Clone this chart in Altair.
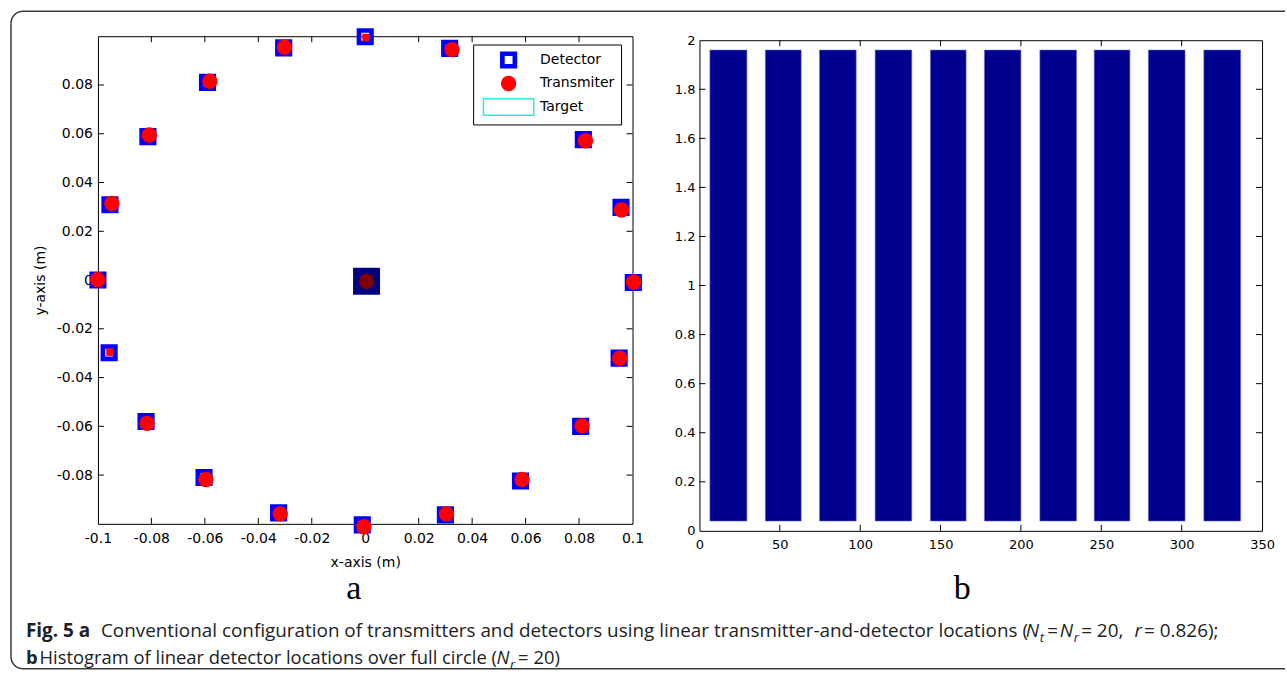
import altair as alt
import pandas as pd

# ---------------- data ----------------
# panel a : detector (blue squares) positions, metres
det_x = [0.0, 0.0316, 0.0588, 0.0816, 0.0957, 0.1003, 0.0950, 0.0806, 0.0581, 0.0300,
         -0.0011, -0.0324, -0.0603, -0.0820, -0.0958, -0.1000, -0.0955, -0.0813, -0.0590, -0.0305]
det_y = [0.0998, 0.0950, 0.0809, 0.0576, 0.0298, -0.0010, -0.0320, -0.0600, -0.0824, -0.0963,
         -0.1004, -0.0955, -0.0810, -0.0580, -0.0298, 0.0000, 0.0309, 0.0588, 0.0811, 0.0952]
# transmitters drawn as red discs
tx_x = [0.0325, 0.0588, 0.0824, 0.0959, 0.1004, 0.0952, 0.0811, 0.0587, 0.0304, -0.0005,
        -0.0318, -0.0596, -0.0816, -0.1001, -0.0948, -0.0808, -0.0581, -0.0302]
tx_y = [0.0945, 0.0809, 0.0571, 0.0287, -0.0008, -0.0321, -0.0598, -0.0818, -0.0959, -0.1012,
        -0.0959, -0.0818, -0.0588, 0.0001, 0.0314, 0.0595, 0.0815, 0.0955]
# transmitters drawn as small red squares
tx_sq_x = [0.0003, -0.0955]
tx_sq_y = [0.0995, -0.0296]
# target at the centre
target_x = [0.0005]
target_y = [-0.0005]
series_names = ["Detector", "Transmiter", "Target"]

left_xticks = [-0.1, -0.08, -0.06, -0.04, -0.02, 0, 0.02, 0.04, 0.06, 0.08, 0.1]
left_yticks = [-0.08, -0.06, -0.04, -0.02, 0, 0.02, 0.04, 0.06, 0.08]
left_inner_xticks = [-0.08, -0.06, -0.04, -0.02, 0, 0.02, 0.04, 0.06, 0.08]

# panel b : histogram bars
bar_start = [6.5, 41.0, 74.7, 109.3, 143.7, 177.3, 211.8, 245.6, 279.3, 313.8]
bar_end = [29.5, 63.3, 97.5, 132.1, 165.9, 200.0, 234.6, 267.8, 302.1, 336.7]
bar_low = [0.04, 0.04, 0.04, 0.04, 0.04, 0.04, 0.04, 0.04, 0.04, 0.04]
bar_high = [1.96, 1.96, 1.96, 1.96, 1.96, 1.96, 1.96, 1.96, 1.96, 1.96]

right_xticks = [0, 50, 100, 150, 200, 250, 300, 350]
right_yticks = [0, 0.2, 0.4, 0.6, 0.8, 1, 1.2, 1.4, 1.6, 1.8, 2]
right_inner_xticks = [50, 100, 150, 200, 250, 300]
right_inner_yticks = [0.2, 0.4, 0.6, 0.8, 1, 1.2, 1.4, 1.6, 1.8]

# ---------------- geometry ----------------
LX0, LY0, LW, LH = 97, 35, 535, 488
RX0, RY0, RW, RH = 699, 39, 563, 491
TICK = 6


def lx(cx):
    return cx - LX0


def ly(cy):
    return cy - LY0


AX_FONT = "DejaVu Sans"
CAP_FONT = "Open Sans"

# ---------------- panel a ----------------
xs_l = alt.Scale(domain=[-0.1, 0.1], nice=False, zero=False)
ys_l = alt.Scale(domain=[-0.1, 0.1], nice=False, zero=False)
xaxis_l = alt.Axis(values=left_xticks, labelExpr="'' + datum.value", ticks=False, tickSize=0,
                   domain=False, grid=False, labelFont=AX_FONT, labelFontSize=14,
                   labelColor="black", labelPadding=8, labelFlush=False, labelOverlap=False,
                   title="x-axis (m)", titleFont=AX_FONT, titleFontSize=14,
                   titleFontWeight="normal", titleColor="black", titlePadding=10)
yaxis_l = alt.Axis(values=left_yticks, labelExpr="'' + datum.value", ticks=False, tickSize=0,
                   domain=False, grid=False, labelFont=AX_FONT, labelFontSize=14,
                   labelColor="black", labelPadding=5.5, labelFlush=False, labelOverlap=False,
                   title="y-axis (m)", titleFont=AX_FONT, titleFontSize=14,
                   titleFontWeight="normal", titleColor="black", titlePadding=9)


def XL():
    return alt.X("x:Q", scale=xs_l, axis=xaxis_l)


def YL():
    return alt.Y("y:Q", scale=ys_l, axis=yaxis_l)


pts = pd.DataFrame({
    "x": det_x + tx_x,
    "y": det_y + tx_y,
    "series": ["Detector"] * len(det_x) + ["Transmiter"] * len(tx_x),
})

path_det = "M-0.92,-0.92H0.92V0.92H-0.92Z M-0.55,-0.55V0.55H0.55V-0.55Z"
path_tx = "M-0.82,0A0.82,0.82 0 1,0 0.82,0A0.82,0.82 0 1,0 -0.82,0Z"
path_tg = "M-2.96,-0.98H2.96V0.98H-2.96Z"

legend = alt.Legend(title=None, orient="none", legendX=lx(472.5), legendY=ly(43.3),
                    fillColor="white", strokeColor="black", padding=6,
                    cornerRadius=0, labelFont=AX_FONT, labelFontSize=14, labelColor="black",
                    symbolOffset=20, labelOffset=22, rowPadding=1.5, symbolSize=289,
                    symbolStrokeWidth=1.5, symbolOpacity=1)

points = alt.Chart(pts).mark_point(filled=True, size=289, strokeWidth=1.5, opacity=1).encode(
    x=XL(), y=YL(),
    shape=alt.Shape("series:N", scale=alt.Scale(domain=series_names,
                                                 range=[path_det, path_tx, path_tg]), legend=legend),
    fill=alt.Fill("series:N", scale=alt.Scale(domain=series_names,
                                               range=["#0000FF", "#FF0000", "transparent"]), legend=legend),
    stroke=alt.Stroke("series:N", scale=alt.Scale(domain=series_names,
                                                   range=["#0000FF", "#FF0000", "#33E8D8"]), legend=legend),
)

small_tx = alt.Chart(pd.DataFrame({"x": tx_sq_x, "y": tx_sq_y})).mark_square(
    size=55, color="#FF0000", opacity=1).encode(x=XL(), y=YL())

target_df = pd.DataFrame({"x": target_x, "y": target_y})
target_sq = alt.Chart(target_df).mark_square(size=729, color="#000080", opacity=1).encode(x=XL(), y=YL())
target_c = alt.Chart(target_df).mark_circle(size=235, color="#800000", opacity=1).encode(x=XL(), y=YL())

ltx = pd.DataFrame({"x": left_inner_xticks})
lty = pd.DataFrame({"y": left_inner_xticks})
tick_style = dict(color="black", strokeWidth=1)
l_ticks = [
    alt.Chart(ltx).mark_rule(**tick_style).encode(x=XL(), y=alt.value(0), y2=alt.value(TICK)),
    alt.Chart(ltx).mark_rule(**tick_style).encode(x=XL(), y=alt.value(LH), y2=alt.value(LH - TICK)),
    alt.Chart(lty).mark_rule(**tick_style).encode(y=YL(), x=alt.value(0), x2=alt.value(TICK)),
    alt.Chart(lty).mark_rule(**tick_style).encode(y=YL(), x=alt.value(LW), x2=alt.value(LW - TICK)),
]

one = pd.DataFrame({"k": [0]})

# anchor pinning the canvas origin (invisible)
anchor = alt.Chart(one).mark_rect(opacity=0).encode(
    x=alt.value(lx(0)), x2=alt.value(lx(1)), y=alt.value(ly(0)), y2=alt.value(ly(1)))

# rounded figure frame
FR = "#3a3a3a"
frame = [
    alt.Chart(one).mark_rule(color=FR, strokeWidth=1.5).encode(
        x=alt.value(lx(22)), x2=alt.value(lx(1285)), y=alt.value(ly(10))),
    alt.Chart(one).mark_rule(color=FR, strokeWidth=1.5).encode(
        x=alt.value(lx(22)), x2=alt.value(lx(1285)), y=alt.value(ly(668))),
    alt.Chart(one).mark_rule(color=FR, strokeWidth=1.5).encode(
        x=alt.value(lx(10)), y=alt.value(ly(22)), y2=alt.value(ly(656))),
    alt.Chart(one).mark_arc(color=FR).encode(
        x=alt.value(lx(22)), y=alt.value(ly(22)), radius=alt.value(12.75), radius2=alt.value(11.25),
        theta=alt.value(4.7124), theta2=alt.value(6.2832)),
    alt.Chart(one).mark_arc(color=FR).encode(
        x=alt.value(lx(22)), y=alt.value(ly(656)), radius=alt.value(12.75), radius2=alt.value(11.25),
        theta=alt.value(3.1416), theta2=alt.value(4.7124)),
]

# panel letters
letters = [
    alt.Chart(one).mark_text(text="a", font="Liberation Serif", fontSize=34, color="black",
                             align="center", baseline="alphabetic").encode(
        x=alt.value(lx(353)), y=alt.value(ly(598))),
    alt.Chart(one).mark_text(text="b", font="Liberation Serif", fontSize=34, color="black",
                             align="center", baseline="alphabetic").encode(
        x=alt.value(lx(962)), y=alt.value(ly(598))),
]

# caption (text, left x, baseline y, weight, style, size)
CS1 = 18.9
CS2 = 18.4
SS = 13
caption_parts = [
    ("Fig. 5 a", 25, 636, "bold", "normal", CS1),
    ("Conventional configuration of transmitters and detectors using linear transmitter-and-detector locations (",
     100, 636, "normal", "normal", CS1),
    ("N", 1025.5, 636, "normal", "italic", CS1),
    ("t", 1039.5, 641, "normal", "italic", SS),
    ("=", 1047, 636, "normal", "normal", CS1),
    ("N", 1059.5, 636, "normal", "italic", CS1),
    ("r", 1073.5, 641, "normal", "italic", SS),
    ("= 20,", 1081, 636, "normal", "normal", CS1),
    ("r", 1134.5, 636, "normal", "italic", CS1),
    ("= 0.826);", 1144, 636, "normal", "normal", CS1),
    ("b", 25, 663, "bold", "normal", CS2),
    ("Histogram of linear detector locations over full circle (", 38.5, 663, "normal", "normal", CS2),
    ("N", 496, 663, "normal", "italic", CS2),
    ("r", 509.5, 668, "normal", "italic", SS),
    ("= 20)", 517.5, 663, "normal", "normal", CS2),
]
caption = [
    alt.Chart(one).mark_text(text=t, font=CAP_FONT, fontSize=s, fontWeight=w, fontStyle=st,
                             color="#222222", align="left", baseline="alphabetic").encode(
        x=alt.value(lx(cx)), y=alt.value(ly(cy)))
    for (t, cx, cy, w, st, s) in caption_parts
]

left = alt.layer(
    anchor, *frame, *l_ticks, points, small_tx, target_sq, target_c, *letters, *caption
).properties(width=LW, height=LH)

# ---------------- panel b ----------------
xs_r = alt.Scale(domain=[0, 350], nice=False, zero=False)
ys_r = alt.Scale(domain=[0, 2], nice=False, zero=False)
xaxis_r = alt.Axis(values=right_xticks, labelExpr="'' + datum.value", ticks=False, tickSize=0,
                   domain=False, grid=False, labelFont=AX_FONT, labelFontSize=13,
                   labelColor="black", labelPadding=8, labelFlush=False, labelOverlap=False,
                   title=None)
yaxis_r = alt.Axis(values=right_yticks, labelExpr="'' + datum.value", ticks=False, tickSize=0,
                   domain=False, grid=False, labelFont=AX_FONT, labelFontSize=13,
                   labelColor="black", labelPadding=4.5, labelFlush=False, labelOverlap=False,
                   title=None)


def XR(f="x"):
    return alt.X(f + ":Q", scale=xs_r, axis=xaxis_r)


def YR(f="y"):
    return alt.Y(f + ":Q", scale=ys_r, axis=yaxis_r)


bars_df = pd.DataFrame({"x": bar_start, "x2": bar_end, "y": bar_low, "y2": bar_high})
bars = alt.Chart(bars_df).mark_rect(fill="#00008F", stroke="#6a6ad8", strokeWidth=0.6).encode(
    x=XR(), x2="x2", y=YR(), y2="y2")

rtx = pd.DataFrame({"x": right_inner_xticks})
rty = pd.DataFrame({"y": right_inner_yticks})
r_ticks = [
    alt.Chart(rtx).mark_rule(**tick_style).encode(x=XR(), y=alt.value(0), y2=alt.value(TICK)),
    alt.Chart(rtx).mark_rule(**tick_style).encode(x=XR(), y=alt.value(RH), y2=alt.value(RH - TICK)),
    alt.Chart(rty).mark_rule(**tick_style).encode(y=YR(), x=alt.value(0), x2=alt.value(TICK)),
    alt.Chart(rty).mark_rule(**tick_style).encode(y=YR(), x=alt.value(RW), x2=alt.value(RW - TICK)),
]

right = alt.layer(bars, *r_ticks).properties(width=RW, height=RH)

spacer = alt.Chart(one).mark_point(opacity=0, size=1).encode(
    x=alt.value(0), y=alt.value(0)).properties(
    width=1, height=1, view=alt.ViewBackground(stroke="transparent"))

right_col = alt.vconcat(spacer, right, spacing=RY0 - LY0 - 1, bounds="flush")

chart = alt.hconcat(left, right_col, spacing=RX0 - (LX0 + LW), bounds="flush").properties(
    padding=0, background="white"
).configure_view(stroke="black", strokeWidth=1)

chart.save("out.html", embed_options={"renderer": "svg", "actions": False})
